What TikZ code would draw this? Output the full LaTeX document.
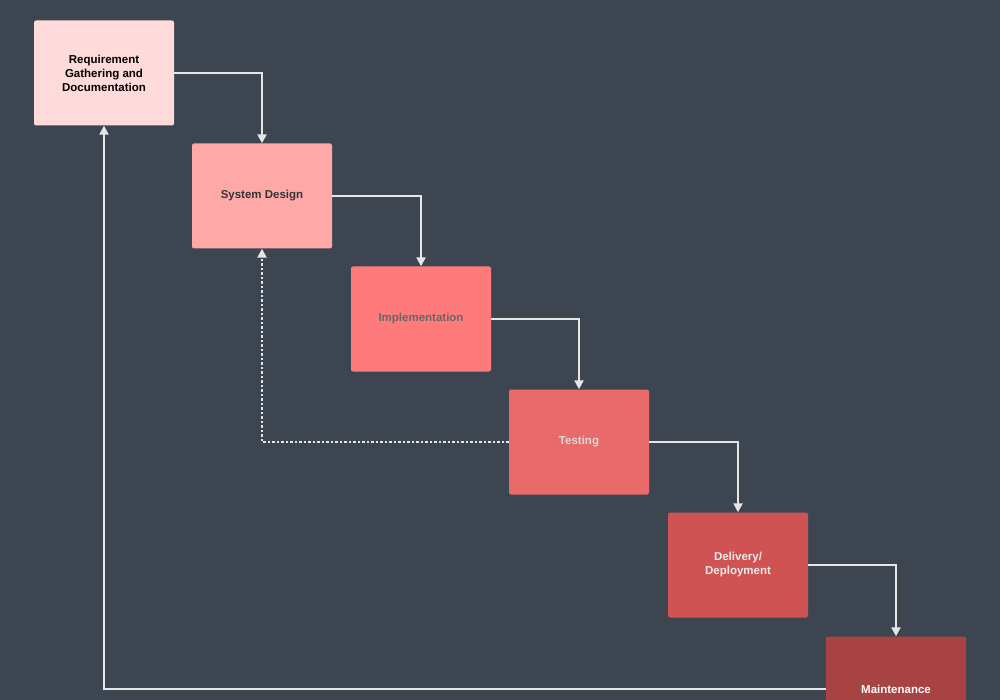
\documentclass[tikz,border=0pt]{standalone}
\usepackage{fontspec}
\setmainfont{Liberation Sans}
\usetikzlibrary{arrows.meta}
\definecolor{bgcol}{HTML}{3D4650}
\definecolor{linecol}{HTML}{E6E6E6}
\definecolor{reqcol}{HTML}{FFDADA}
\definecolor{descol}{HTML}{FFA8A8}
\definecolor{impcol}{HTML}{FF7B7B}
\definecolor{tstcol}{HTML}{E86A6A}
\definecolor{delcol}{HTML}{D05353}
\definecolor{maicol}{HTML}{A84343}

\begin{document}
\begin{tikzpicture}[x=1pt,y=-1pt,
                    phase/.style={rectangle,rounded corners=2pt,minimum width=140pt,
                                  minimum height=105pt,align=center,
                                  font=\bfseries\fontsize{11.5}{14}\selectfont},
                    flow/.style={draw=linecol,line width=2.5pt,
                                 -{Triangle[length=9pt,width=9pt]}}]

	\fill[bgcol] (0,0) rectangle (1000,700);
	\useasboundingbox (0,0) rectangle (1000,700);

	\node[phase,fill=reqcol,text=black] (req) at (104,73)   {Requirement\\Gathering and\\Documentation};
	\node[phase,fill=descol,text=black!80] (des) at (262,196)  {System Design};
	\node[phase,fill=impcol,text=black!60] (imp) at (421,319)  {Implementation};
	\node[phase,fill=tstcol,text=black!15] (tst) at (579,442)  {Testing};
	\node[phase,fill=delcol,text=black!8] (del) at (738,565)  {Delivery/\\Deployment};
	\node[phase,fill=maicol,text=white] (mai) at (896,689)  {Maintenance};

	\draw[flow] (req.east) -| (des.north);
	\draw[flow] (des.east) -| (imp.north);
	\draw[flow] (imp.east) -| (tst.north);
	\draw[flow] (tst.east) -| (del.north);
	\draw[flow] (del.east) -| (mai.north);

	\draw[flow,dotted] (tst.west) -| (des.south);
	\draw[flow] (mai.west) -| (req.south);

\end{tikzpicture}
\end{document}
